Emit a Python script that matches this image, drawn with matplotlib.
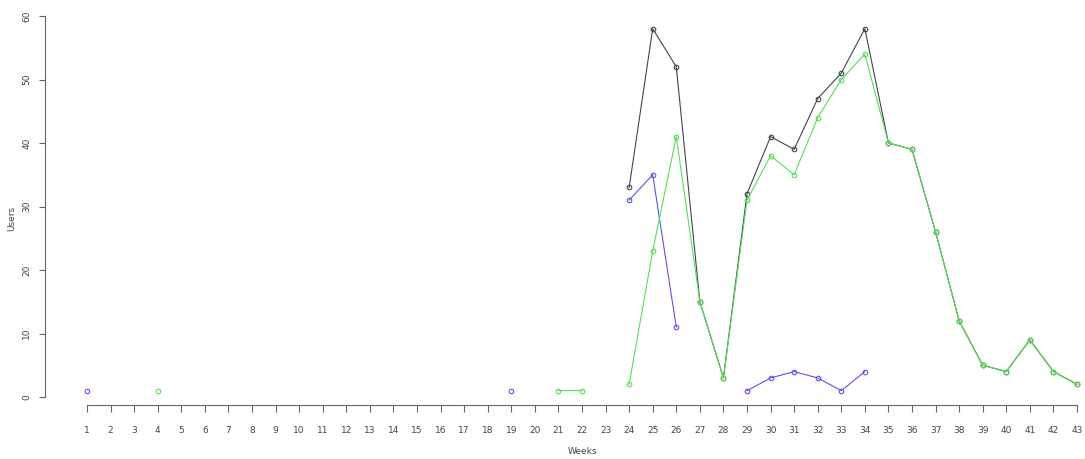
import numpy as np
import matplotlib
matplotlib.use("Agg")
import matplotlib.pyplot as plt

nan = np.nan
weeks = list(range(1, 44))

# Users per week (NaN = no value)
total = [nan]*23 + [33, 58, 52, 15, 3, 32, 41, 39, 47, 51, 58, 40, 39, 26, 12, 5, 4, 9, 4, 2]
blue_vals = ([1] + [nan]*17 + [1] + [nan]*4 + [31, 35, 11, nan, nan, 1, 3, 4, 3, 1, 4]
             + [nan]*9)
green_vals = ([nan]*3 + [1] + [nan]*16 + [1, 1, nan]
              + [2, 23, 41, 15, 3, 31, 38, 35, 44, 50, 54, 40, 39, 26, 12, 5, 4, 9, 4, 2])

W, H = 1085, 459
fig = plt.figure(figsize=(W/100, H/100), dpi=100)
left, right, bottom, top = 45, 1080, 405, 10
ax = fig.add_axes([left/W, 1 - bottom/H, (right-left)/W, (bottom-top)/H])

px_per_week = (1077 - 87) / 42
xmin = 1 - (87 - left) / px_per_week
xmax = 43 + (right - 1077) / px_per_week
ax.set_xlim(xmin, xmax)
px_per_user = (397 - 16) / 60
ymin = -(bottom - 397) / px_per_user
ymax = (397 - top) / px_per_user
ax.set_ylim(ymin, ymax)

style = dict(marker='o', markersize=3.3, markerfacecolor='none', markeredgewidth=0.8, linewidth=0.8)
ax.plot(weeks, total, color='#444444', **style)
ax.plot(weeks, blue_vals, color='#5555ee', **style)
ax.plot(weeks, green_vals, color='#55e055', **style)

for s in ['top', 'right']:
    ax.spines[s].set_visible(False)
ax.spines['left'].set_bounds(0, 60)
ax.spines['bottom'].set_bounds(1, 43)
for s in ['left', 'bottom']:
    ax.spines[s].set_color('#666666')
    ax.spines[s].set_linewidth(0.8)

ax.set_xticks(weeks)
ax.set_xticklabels([str(w) for w in weeks])
ax.set_yticks(range(0, 61, 10))
ax.set_yticklabels([str(v) for v in range(0, 61, 10)], rotation=90, va='center')
ax.tick_params(axis='x', length=5, width=0.8, color='#666666', labelsize=6.5, labelcolor='#444444', pad=10)
ax.tick_params(axis='y', length=4, width=0.8, color='#666666', labelsize=6.5, labelcolor='#444444', pad=6)

fig.text(582/W, 1 - 452/H, 'Weeks', ha='center', va='center', fontsize=6.5, color='#444444')
fig.text(12/W, 1 - 218/H, 'Users', ha='center', va='center', rotation=90, fontsize=6.5, color='#444444')

fig.savefig('out.png', dpi=100)
